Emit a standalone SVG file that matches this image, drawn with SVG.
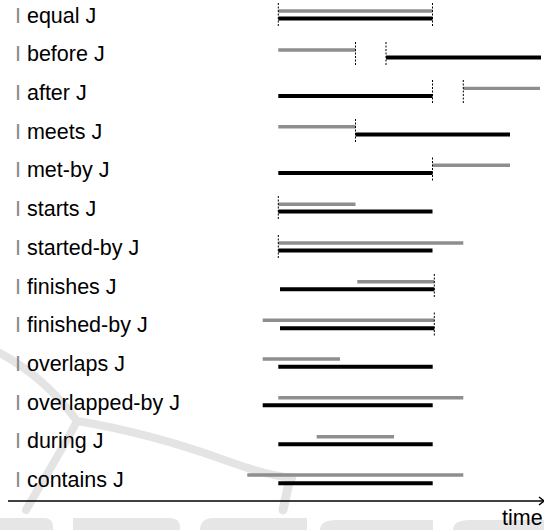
<svg xmlns="http://www.w3.org/2000/svg" width="544" height="530" viewBox="0 0 544 530">
  <style>
    .lbl { font-family: "Liberation Sans", Arial, sans-serif; font-size: 21.5px; fill: #000; }
    .mark { fill: #8a8a8a; }
    .i { stroke: #8e8e8e; stroke-width: 3.4; fill: none; }
    .j { stroke: #000; stroke-width: 4; fill: none; }
    .tick { stroke: #000; stroke-width: 1; stroke-dasharray: 2 1.5; fill: none; }
    .wm { stroke: #e4e4e4; fill: none; stroke-linecap: round; }
    .wmf { fill: #e6e6e6; }
  </style>

  <rect width="544" height="530" fill="#fff"/>

  <!-- faint background logo -->
  <g id="watermark">
    <path class="wm" stroke-width="8" d="M -6 350 C 30 368, 58 395, 77 421 C 120 428, 170 440, 230 462 C 255 471, 275 476, 292 478"/>
    <path class="wm" stroke-width="8" d="M 77 421 C 62 450, 42 482, 26 510"/>
    <path class="wm" stroke-width="9" d="M 290 478 L 283 510"/>
    <path class="wmf" d="M 0 518 L 44 518 Q 53 518 53 527 L 53 530 L 0 530 Z"/>
    <path class="wmf" d="M 73 518 L 170 518 Q 180 518 180 528 L 180 530 L 73 530 Z"/>
    <path class="wmf" d="M 200 530 L 200 530 Q 200 518 214 518 L 307 518 L 307 530 Z"/>
    <path class="wmf" d="M 320 530 Q 320 520 336 520 L 433 520 L 433 530 Z"/>
    <path class="wmf" d="M 453 530 Q 453 520 470 520 L 544 520 L 544 530 Z"/>
  </g>

  <!-- time axis -->
  <g id="connectors">
    <line x1="8" y1="501" x2="543" y2="501" stroke="#000" stroke-width="1.6"/>
    <polyline points="539,497 544,501 539,505" fill="none" stroke="#000" stroke-width="1.4"/>
  </g>
  <text id="axis-label" class="lbl" x="502" y="525" font-size="20.5">time</text>

  <g id="equal">
    <text class="lbl" x="15" y="22.5"><tspan class="mark">I</tspan> equal J</text>
    <line class="i" x1="278.3" y1="11" x2="432.5" y2="11"/>
    <line class="j" x1="278.3" y1="18.5" x2="432.5" y2="18.5"/>
    <line class="tick" x1="278.3" y1="3" x2="278.3" y2="27"/>
    <line class="tick" x1="432.5" y1="3" x2="432.5" y2="27"/>
  </g>

  <g id="before">
    <text class="lbl" x="15" y="61.3"><tspan class="mark">I</tspan> before J</text>
    <line class="i" x1="278.3" y1="50" x2="355.5" y2="50"/>
    <line class="j" x1="386" y1="57.6" x2="541" y2="57.6"/>
    <line class="tick" x1="355.5" y1="42" x2="355.5" y2="65.5"/>
    <line class="tick" x1="386" y1="42" x2="386" y2="65.5"/>
  </g>

  <g id="after">
    <text class="lbl" x="15" y="100"><tspan class="mark">I</tspan> after J</text>
    <line class="i" x1="463.3" y1="88.4" x2="540" y2="88.4"/>
    <line class="j" x1="278.3" y1="96" x2="432.5" y2="96"/>
    <line class="tick" x1="432.5" y1="80" x2="432.5" y2="103.5"/>
    <line class="tick" x1="463.3" y1="80" x2="463.3" y2="103.5"/>
  </g>

  <g id="meets">
    <text class="lbl" x="15" y="138.7"><tspan class="mark">I</tspan> meets J</text>
    <line class="i" x1="278.3" y1="126.7" x2="355.5" y2="126.7"/>
    <line class="j" x1="355.5" y1="134.6" x2="510" y2="134.6"/>
    <line class="tick" x1="355.5" y1="119" x2="355.5" y2="143"/>
  </g>

  <g id="met-by">
    <text class="lbl" x="15" y="177.4"><tspan class="mark">I</tspan> met-by J</text>
    <line class="i" x1="432.5" y1="165.3" x2="510" y2="165.3"/>
    <line class="j" x1="278.3" y1="173" x2="432.5" y2="173"/>
    <line class="tick" x1="432.5" y1="157.5" x2="432.5" y2="181.5"/>
  </g>

  <g id="starts">
    <text class="lbl" x="15" y="216.1"><tspan class="mark">I</tspan> starts J</text>
    <line class="i" x1="278.3" y1="204.3" x2="355.5" y2="204.3"/>
    <line class="j" x1="278.3" y1="211.5" x2="432.5" y2="211.5"/>
    <line class="tick" x1="278.3" y1="196" x2="278.3" y2="220"/>
  </g>

  <g id="started-by">
    <text class="lbl" x="15" y="254.8"><tspan class="mark">I</tspan> started-by J</text>
    <line class="i" x1="278.3" y1="243" x2="463.3" y2="243"/>
    <line class="j" x1="278.3" y1="250.4" x2="432.5" y2="250.4"/>
    <line class="tick" x1="278.3" y1="235" x2="278.3" y2="259"/>
  </g>

  <g id="finishes">
    <text class="lbl" x="15" y="293.5"><tspan class="mark">I</tspan> finishes J</text>
    <line class="i" x1="357.3" y1="281.7" x2="434.3" y2="281.7"/>
    <line class="j" x1="280" y1="289.3" x2="434.3" y2="289.3"/>
    <line class="tick" x1="434.3" y1="274" x2="434.3" y2="297"/>
  </g>

  <g id="finished-by">
    <text class="lbl" x="15" y="332.2"><tspan class="mark">I</tspan> finished-by J</text>
    <line class="i" x1="262.7" y1="320.3" x2="434.3" y2="320.3"/>
    <line class="j" x1="280" y1="328.3" x2="434.3" y2="328.3"/>
    <line class="tick" x1="434.3" y1="312.5" x2="434.3" y2="336"/>
  </g>

  <g id="overlaps">
    <text class="lbl" x="15" y="370.9"><tspan class="mark">I</tspan> overlaps J</text>
    <line class="i" x1="262.7" y1="359" x2="340" y2="359"/>
    <line class="j" x1="278.3" y1="366.7" x2="432.7" y2="366.7"/>
  </g>

  <g id="overlapped-by">
    <text class="lbl" x="15" y="409.6"><tspan class="mark">I</tspan> overlapped-by J</text>
    <line class="i" x1="278.3" y1="397.7" x2="463.3" y2="397.7"/>
    <line class="j" x1="262.7" y1="405.3" x2="432.7" y2="405.3"/>
  </g>

  <g id="during">
    <text class="lbl" x="15" y="448.3"><tspan class="mark">I</tspan> during J</text>
    <line class="i" x1="316.7" y1="436.7" x2="394" y2="436.7"/>
    <line class="j" x1="278.3" y1="444.3" x2="432.7" y2="444.3"/>
  </g>

  <g id="contains">
    <text class="lbl" x="15" y="487"><tspan class="mark">I</tspan> contains J</text>
    <line class="i" x1="247.3" y1="475" x2="463.3" y2="475"/>
    <line class="j" x1="278.3" y1="483.3" x2="432.7" y2="483.3"/>
  </g>
</svg>
